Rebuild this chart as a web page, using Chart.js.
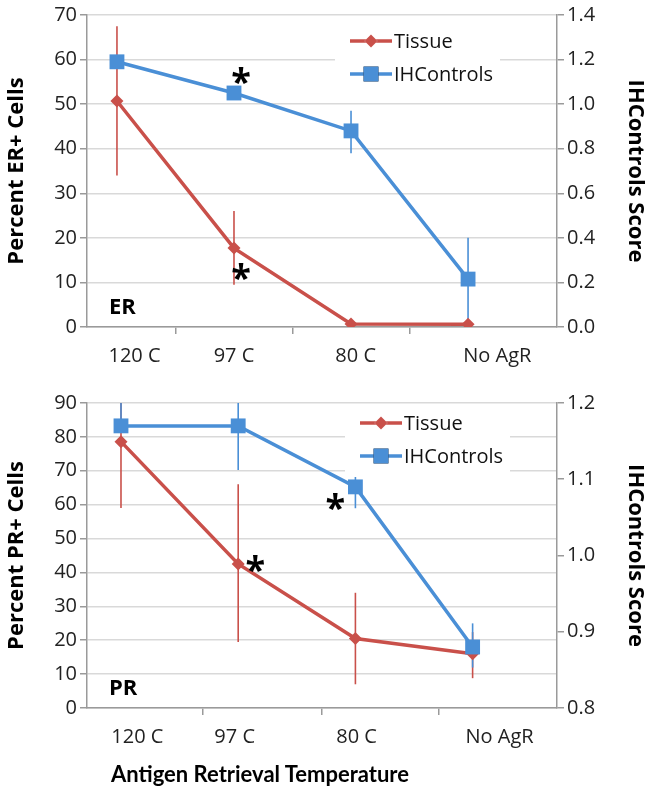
<!DOCTYPE html>
<html>
<head>
<meta charset="utf-8">
<script src="https://cdn.jsdelivr.net/npm/chart.js@4.4.1/dist/chart.umd.min.js"></script>
<style>
  body { margin: 0; background: #fff; }
  #wrap { position: relative; width: 651px; height: 793px; }
  #erChart { position: absolute; left: 0; top: 0; }
  #prChart { position: absolute; left: 0; top: 370px; }
  #xTitle { position: absolute; left: 0; top: 760px; width: 520px; text-align: center;
            font: bold 22px Lato, sans-serif; color: #000; }
</style>
</head>
<body>
<div id="wrap">
  <canvas id="erChart" width="651" height="370"></canvas>
  <canvas id="prChart" width="651" height="423"></canvas>
  <div id="xTitle">Antigen Retrieval Temperature</div>
</div>
<script>
const categories = ['120 C', '97 C', '80 C', 'No AgR'];

// ER panel
const erTissue = [50.7, 17.7, 0.7, 0.6];
const erTissueLow = [34, 9.5, 0.7, 0.6];
const erTissueHigh = [67.5, 26, 0.7, 0.6];
const erControls = [1.19, 1.05, 0.88, 0.215];
const erControlsLow = [1.19, 1.05, 0.78, 0];
const erControlsHigh = [1.19, 1.05, 0.97, 0.40];
const erLeftTicks = [0, 10, 20, 30, 40, 50, 60, 70];
const erRightTicks = [0, 0.2, 0.4, 0.6, 0.8, 1.0, 1.2, 1.4];

// PR panel
const prTissue = [78.6, 42.5, 20.5, 16];
const prTissueLow = [59, 19.5, 7, 8.8];
const prTissueHigh = [90, 66, 34, 22.4];
const prControls = [1.17, 1.17, 1.09, 0.88];
const prControlsLow = [1.17, 1.112, 1.062, 0.853];
const prControlsHigh = [1.2, 1.2, 1.112, 0.911];
const prLeftTicks = [0, 10, 20, 30, 40, 50, 60, 70, 80, 90];
const prRightTicks = [0.8, 0.9, 1.0, 1.1, 1.2];

const RED = '#C9504A';
const BLUE = '#4A8FD6';
const AXIS = '#9a9a9a';
const GRID = '#d9d9d9';
const FONT = 'Open Sans';

function pts(values) {
  return values.map((v, i) => ({ x: i, y: v }));
}

// vertical error bars, no caps
const errorBars = {
  id: 'errorBars',
  beforeDatasetsDraw(chart) {
    const ctx = chart.ctx;
    const xs = chart.scales.x;
    const a = chart.chartArea;
    ctx.save();
    ctx.beginPath();
    ctx.rect(a.left, a.top, a.right - a.left, a.bottom - a.top);
    ctx.clip();
    chart.data.datasets.forEach(ds => {
      const ys = chart.scales[ds.yAxisID];
      ctx.strokeStyle = ds.borderColor;
      ctx.lineWidth = 1.6;
      ds.errLow.forEach((lo, i) => {
        const hi = ds.errHigh[i];
        if (lo === hi) return;
        const x = xs.getPixelForValue(i);
        ctx.beginPath();
        ctx.moveTo(x, ys.getPixelForValue(lo));
        ctx.lineTo(x, ys.getPixelForValue(hi));
        ctx.stroke();
      });
    });
    ctx.restore();
  }
};

// legend box inside the plot, panel name and asterisks
const notes = {
  id: 'notes',
  beforeDatasetsDraw(chart, args, opts) {
    const ctx = chart.ctx;
    const a = chart.chartArea;
    const lx = a.right - opts.legend.right;
    const ly = a.top + opts.legend.top;
    ctx.save();
    ctx.fillStyle = '#fff';
    ctx.fillRect(lx - 15, ly - 16, 165, 70);
    chart.data.datasets.forEach((ds, k) => {
      const y = ly + k * 33;
      ctx.strokeStyle = ds.borderColor;
      ctx.lineWidth = 3.5;
      ctx.beginPath();
      ctx.moveTo(lx, y);
      ctx.lineTo(lx + 42, y);
      ctx.stroke();
      Chart.helpers.drawPoint(ctx, { pointStyle: ds.pointStyle, radius: ds.pointRadius, borderWidth: 0 }, lx + 21, y);
      ctx.fillStyle = ds.borderColor;
      ctx.fill();
      ctx.fillStyle = '#111';
      ctx.font = '20px "' + FONT + '"';
      ctx.textBaseline = 'middle';
      ctx.textAlign = 'left';
      ctx.fillText(ds.label, lx + 44, y + 1);
    });
    ctx.font = 'bold 22px "' + FONT + '"';
    ctx.fillStyle = '#000';
    ctx.textBaseline = 'middle';
    ctx.fillText(opts.panel, a.left + 22, a.bottom - 19);
    ctx.restore();
  },
  afterDatasetsDraw(chart, args, opts) {
    const ctx = chart.ctx;
    ctx.save();
    ctx.font = 'bold 36px "' + FONT + '"';
    ctx.fillStyle = '#000';
    ctx.textAlign = 'center';
    ctx.textBaseline = 'alphabetic';
    opts.stars.forEach(s => {
      const p = chart.getDatasetMeta(s.ds).data[s.i];
      ctx.fillText('*', p.x + s.dx, p.y + s.dy + 20);
    });
    ctx.restore();
  }
};

function makeChart(id, cfg) {
  return new Chart(document.getElementById(id), {
    type: 'line',
    data: {
      datasets: [{
        label: 'Tissue',
        data: pts(cfg.tissue),
        errLow: cfg.tissueLow,
        errHigh: cfg.tissueHigh,
        yAxisID: 'y',
        borderColor: RED,
        backgroundColor: RED,
        borderWidth: 3.5,
        pointStyle: 'rectRot',
        pointRadius: 6.5,
        pointBorderWidth: 0,
        order: 2
      }, {
        label: 'IHControls',
        data: pts(cfg.controls),
        errLow: cfg.controlsLow,
        errHigh: cfg.controlsHigh,
        yAxisID: 'y1',
        borderColor: BLUE,
        backgroundColor: BLUE,
        borderWidth: 3.5,
        pointStyle: 'rect',
        pointRadius: 10.5,
        pointBorderWidth: 0,
        order: 1
      }]
    },
    options: {
      responsive: false,
      animation: false,
      layout: { padding: { top: cfg.top, left: 0, right: 0, bottom: 0 } },
      plugins: {
        legend: { display: false },
        tooltip: { enabled: false },
        notes: { panel: cfg.panel, legend: cfg.legend, stars: cfg.stars }
      },
      scales: {
        x: {
          type: 'linear',
          min: cfg.xMin,
          max: cfg.xMax,
          afterBuildTicks: axis => {
            axis.ticks = cfg.labelPos.map(v => ({ value: v }))
              .concat(cfg.markPos.map(v => ({ value: v })));
          },
          afterFit: axis => { axis.height = cfg.xHeight; },
          ticks: {
            autoSkip: false,
            maxRotation: 0,
            padding: 10,
            color: '#222',
            font: { family: FONT, size: 20 },
            callback: (v, i) => i < categories.length ? categories[i] : ''
          },
          grid: {
            drawOnChartArea: false,
            tickLength: 7,
            lineWidth: 1.5,
            color: c => c.index >= categories.length ? AXIS : 'rgba(0,0,0,0)'
          },
          border: { color: AXIS, width: 1.5 }
        },
        y: {
          position: 'left',
          min: cfg.leftTicks[0],
          max: cfg.leftTicks[cfg.leftTicks.length - 1],
          afterBuildTicks: axis => { axis.ticks = cfg.leftTicks.map(v => ({ value: v })); },
          afterFit: axis => { axis.width = 87; },
          ticks: { padding: 3, color: '#222', font: { family: FONT, size: 20 } },
          grid: { color: GRID, lineWidth: 1.5, tickColor: AXIS, tickLength: 7 },
          border: { color: AXIS, width: 1.5 },
          title: {
            display: true, text: cfg.leftTitle, color: '#000',
            font: { family: FONT, size: 22, weight: 'bold' }, padding: 4
          }
        },
        y1: {
          position: 'right',
          min: cfg.rightTicks[0],
          max: cfg.rightTicks[cfg.rightTicks.length - 1],
          afterBuildTicks: axis => { axis.ticks = cfg.rightTicks.map(v => ({ value: v })); },
          afterFit: axis => { axis.width = 94; },
          ticks: {
            padding: 3, color: '#222', font: { family: FONT, size: 20 },
            callback: v => v.toFixed(1)
          },
          grid: { drawOnChartArea: false, tickColor: AXIS, tickLength: 7, lineWidth: 1.5 },
          border: { color: AXIS, width: 1.5 },
          title: {
            display: true, text: 'IHControls Score', color: '#000',
            font: { family: FONT, size: 22, weight: 'bold' }, padding: 3
          }
        }
      }
    },
    plugins: [errorBars, notes]
  });
}

makeChart('erChart', {
  tissue: erTissue, tissueLow: erTissueLow, tissueHigh: erTissueHigh,
  controls: erControls, controlsLow: erControlsLow, controlsHigh: erControlsHigh,
  leftTicks: erLeftTicks, rightTicks: erRightTicks,
  leftTitle: 'Percent ER+ Cells', panel: 'ER',
  top: 10, xHeight: 43,
  xMin: -0.256, xMax: 3.76,
  labelPos: [0.15, 1.0, 2.04, 3.25],
  markPos: [0.5, 1.5, 2.5],
  legend: { right: 207, top: 26 },
  stars: [{ ds: 1, i: 1, dx: 7, dy: -19 }, { ds: 0, i: 1, dx: 7, dy: 22 }]
});

makeChart('prChart', {
  tissue: prTissue, tissueLow: prTissueLow, tissueHigh: prTissueHigh,
  controls: prControls, controlsLow: prControlsLow, controlsHigh: prControlsHigh,
  leftTicks: prLeftTicks, rightTicks: prRightTicks,
  leftTitle: 'Percent PR+ Cells', panel: 'PR',
  top: 33, xHeight: 85,
  xMin: -0.29, xMax: 3.72,
  labelPos: [0.14, 0.97, 2.01, 3.23],
  markPos: [0.70, 1.71, 2.71],
  legend: { right: 197, top: 20 },
  stars: [{ ds: 0, i: 1, dx: 17, dy: -2 }, { ds: 1, i: 2, dx: -20, dy: 13 }]
});
</script>
</body>
</html>
